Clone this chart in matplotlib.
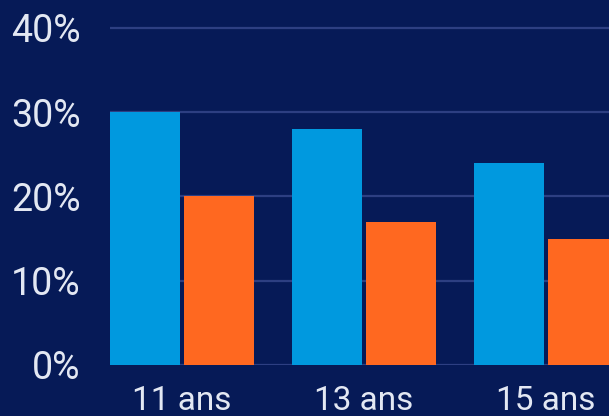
import numpy as np
import matplotlib.pyplot as plt

# Données
categories = ["11 ans", "13 ans", "15 ans"]
serie_bleue = [30, 28, 24]
serie_orange = [20, 17, 15]
yticks = [0, 10, 20, 30, 40]

fond = "#061a57"
bleu = "#0099df"
orange = "#ff6820"
texte = "#e3e8f3"
grille = "#2d3f82"

plt.rcParams['font.family'] = ['Roboto', 'DejaVu Sans']

fig = plt.figure(figsize=(6.09, 4.16), dpi=100, facecolor=fond)
ax = fig.add_axes([110/609, 0.1226, 1 - 110/609, 41*8.425/416])
ax.set_facecolor(fond)

x = np.arange(len(categories))
largeur = 70/182
decal = 37/182
ax.bar(x - decal, serie_bleue, largeur, color=bleu, zorder=3)
ax.bar(x + decal, serie_orange, largeur, color=orange, zorder=3)

ax.set_xlim(-0.3956, -0.3956 + 499/182)
ax.set_ylim(0, 41)
ax.set_yticks(yticks)
ax.set_yticklabels([f"{v}%" for v in yticks])
ax.set_xticks(x)
ax.set_xticklabels(categories)

ax.yaxis.grid(True, color=grille, linewidth=1.6, zorder=0)
ax.set_axisbelow(True)
for s in ax.spines.values():
    s.set_visible(False)
ax.tick_params(axis='both', length=0, colors=texte)
ax.tick_params(axis='y', pad=21, labelsize=27)
ax.tick_params(axis='x', pad=14.5, labelsize=24)
for lab in ax.get_yticklabels():
    lab.set_va('center_baseline')

fig.savefig("out.png", dpi=100, facecolor=fond)
